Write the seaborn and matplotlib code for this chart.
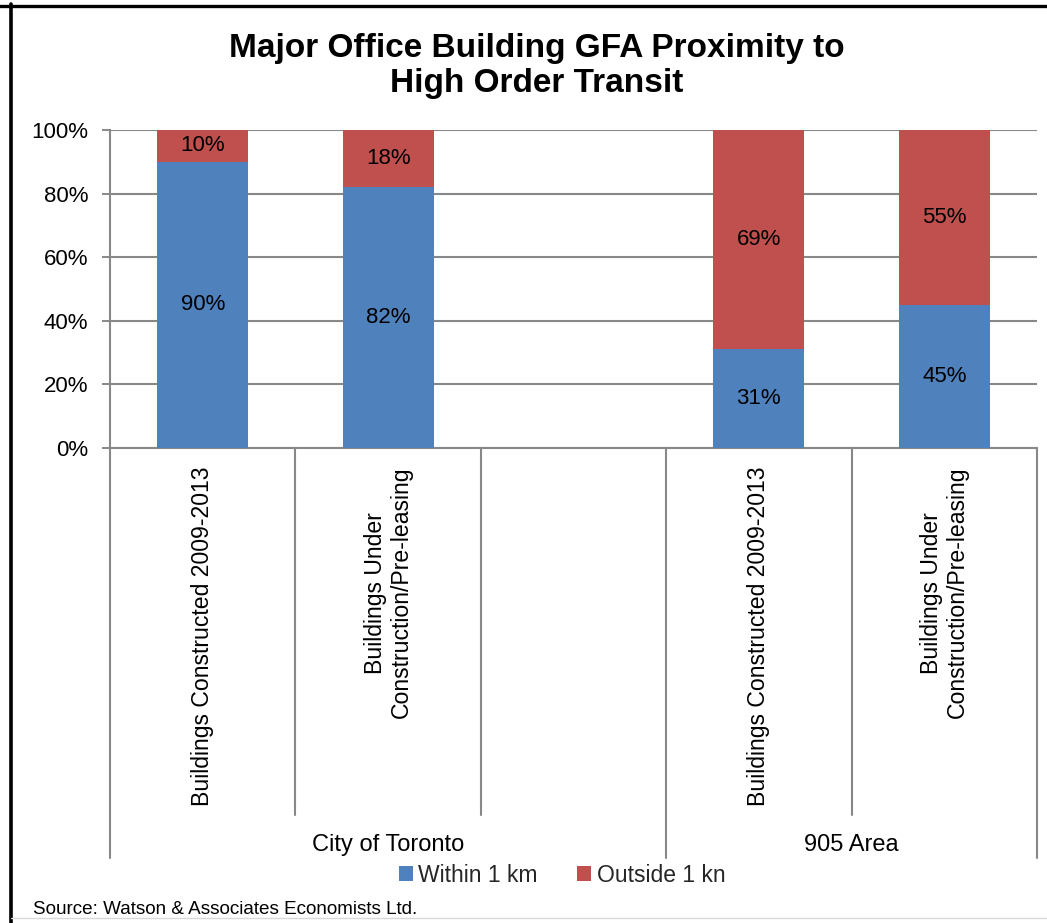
import matplotlib
matplotlib.use("Agg")
import matplotlib.pyplot as plt
import matplotlib.transforms as mtransforms
from matplotlib.lines import Line2D
from matplotlib.patches import Patch
import pandas as pd
import seaborn as sns

# ---- data -------------------------------------------------------------
groups = ["City of Toronto", "City of Toronto", "905 Area", "905 Area"]
categories = [
    "Buildings Constructed 2009-2013",
    "Buildings Under\nConstruction/Pre-leasing",
    "Buildings Constructed 2009-2013",
    "Buildings Under\nConstruction/Pre-leasing",
]
within_1km = [90, 82, 31, 45]
outside_1km = [10, 18, 69, 55]
series_names = ["Within 1 km", "Outside 1 kn"]
group_names = ["City of Toronto", "905 Area"]
y_ticks = [0, 20, 40, 60, 80, 100]
title_lines = ["Major Office Building GFA Proximity to", "High Order Transit"]
source_text = "Source: Watson & Associates Economists Ltd."

BLUE = "#4F81BD"
RED = "#C0504D"
GRID = "#888888"

sns.set_theme(style="white")
plt.rcParams["font.family"] = ["Liberation Sans", "DejaVu Sans"]

keys = [f"{g}|{c}" for g, c in zip(groups, categories)]
df = pd.DataFrame({
    "key": keys,
    "group": groups,
    "category": categories,
    "within": within_1km,
    "outside": outside_1km,
})
df["total"] = df["within"] + df["outside"]

# an empty slot separates the two regions
order = keys[:2] + ["__spacer__"] + keys[2:]

W, H = 1047, 923
fig = plt.figure(figsize=(W / 100, H / 100), dpi=100)
ax = fig.add_axes([110 / W, 1 - 448 / H, 927 / W, 318 / H])

sns.barplot(data=df, x="key", y="total", order=order, color=RED,
            saturation=1, width=0.49, ax=ax, zorder=2,
            linewidth=0, edgecolor=RED)
sns.barplot(data=df, x="key", y="within", order=order, color=BLUE,
            saturation=1, width=0.49, ax=ax, zorder=3,
            linewidth=0, edgecolor=BLUE)

ax.set_xlim(-0.5, len(order) - 0.5)
ax.set_ylim(0, 100)
ax.set_xlabel("")
ax.set_ylabel("")

# y axis
ax.set_yticks(y_ticks)
ax.set_yticklabels([f"{v}%" for v in y_ticks], fontsize=16, color="black")
ax.tick_params(axis="y", which="both", left=True, length=5.5, width=1.4,
               color=GRID, pad=10)
ax.yaxis.grid(True, color=GRID, linewidth=1.5)
ax.xaxis.grid(False)
ax.set_axisbelow(True)
ax.set_xticks([])
for side in ["top", "right"]:
    ax.spines[side].set_visible(False)
for side in ["left", "bottom"]:
    ax.spines[side].set_color(GRID)
    ax.spines[side].set_linewidth(1.5)

# segment value labels
for key, w, o in zip(keys, within_1km, outside_1km):
    i = order.index(key)
    ax.text(i, w / 2, f"{w}%", ha="center", va="center", fontsize=16,
            color="black", zorder=5)
    ax.text(i, w + o / 2, f"{o}%", ha="center", va="center", fontsize=16,
            color="black", zorder=5)

# two-level category axis below the plot
trans = mtransforms.blended_transform_factory(ax.transData, ax.transAxes)
inner_end = (448 - 815) / 318
outer_end = (448 - 858) / 318
label_top = (448 - 467) / 318
group_y = (448 - 845) / 318

for key, cat in zip(keys, categories):
    i = order.index(key)
    ax.text(i, label_top, cat, transform=trans, rotation=90, ha="center",
            va="top", multialignment="center", fontsize=16.6, color="black",
            linespacing=1.15)

group_bounds = {}
for g, key in zip(groups, keys):
    i = order.index(key)
    lo, hi = group_bounds.get(g, (i, i))
    group_bounds[g] = (min(lo, i), max(hi, i))
# the spacer slot belongs to the first region
lo, hi = group_bounds[group_names[0]]
group_bounds[group_names[0]] = (lo, order.index("__spacer__"))

outer_edges = set()
for g in group_names:
    lo, hi = group_bounds[g]
    outer_edges.update([lo - 0.5, hi + 0.5])
    ax.text((lo + hi) / 2, group_y, g, transform=trans, ha="center",
            va="center", fontsize=17, color="black")

for b in [i - 0.5 for i in range(len(order) + 1)]:
    end = outer_end if b in outer_edges else inner_end
    ax.add_line(Line2D([b, b], [0, end], transform=trans, color=GRID,
                       linewidth=1.5, clip_on=False))

# legend
handles = [Patch(facecolor=BLUE, edgecolor="none"),
           Patch(facecolor=RED, edgecolor="none")]
fig.legend(handles, series_names, loc="center",
           bbox_to_anchor=(562 / W, 1 - 875 / H), ncol=2, frameon=False,
           fontsize=16.5, handlelength=0.62, handleheight=0.62,
           handletextpad=0.25, columnspacing=1.7, borderpad=0)

# title
fig.text(537 / W, 1 - 57 / H, title_lines[0], ha="center", va="baseline",
         fontsize=24, fontweight="bold", color="black")
fig.text(537 / W, 1 - 92 / H, title_lines[1], ha="center", va="baseline",
         fontsize=24, fontweight="bold", color="black")

# source note
fig.text(33 / W, 1 - 910 / H, source_text, ha="left", va="center",
         fontsize=13.6, color="black")

# chart frame
fig.add_artist(Line2D([0, 1], [1 - 5.5 / H, 1 - 5.5 / H],
                      transform=fig.transFigure, color="black", linewidth=2.4))
fig.add_artist(Line2D([11 / W, 11 / W], [1 - 4 / H, 0],
                      transform=fig.transFigure, color="black", linewidth=2.6))
fig.add_artist(Line2D([11 / W, 1], [1 - 918 / H, 1 - 918 / H],
                      transform=fig.transFigure, color="#d9d9d9", linewidth=1.0))

fig.savefig("out.png", dpi=100, facecolor="white")
